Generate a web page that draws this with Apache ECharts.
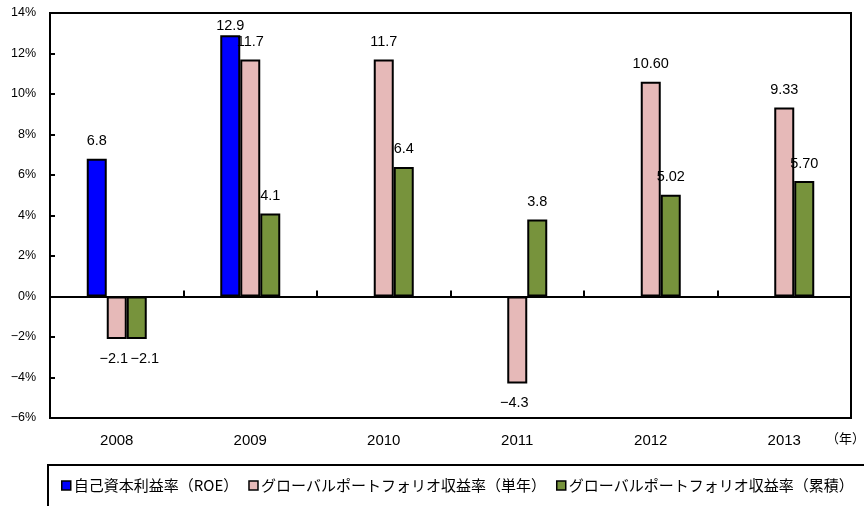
<!DOCTYPE html>
<html><head><meta charset="utf-8">
<script src="https://cdn.jsdelivr.net/npm/echarts@6/dist/echarts.min.js"></script>
<style>html,body{margin:0;padding:0;background:#fff}#c{width:864px;height:506px}</style>
</head><body><div id="c"></div>
<script>
const years = ['2008','2009','2010','2011','2012','2013'];
const roe = [6.8, 12.9, null, null, null, null];
const singleYear = [-2.1, 11.7, 11.7, -4.3, 10.60, 9.33];
const cumulative = [-2.1, 4.1, 6.4, 3.8, 5.02, 5.70];
const labelDecimals = [1, 1, 1, 1, 2, 2];
const yTicks = {min: -6, max: 14, interval: 2};
const names = ['自己資本利益率（ROE）', 'グローバルポートフォリオ収益率（単年）', 'グローバルポートフォリオ収益率（累積）'];
const colors = ['#0000FF', '#E6B9B8', '#77933C'];

const chart = echarts.init(document.getElementById('c'));
const labelFont = {fontFamily: 'Liberation Sans', fontSize: 14.5, color: '#000'};
const negOffsets = [[0, 0], [-3, 0], [8, 0]];
function mk(vals, si){
  return vals.map(v => v === null ? null : {
    value: v,
    label: v < 0 ? {position: 'bottom', distance: 12, offset: negOffsets[si]}
                 : {position: 'top', distance: (yTicks.max - v) < 1.5 ? 2 : 10}
  });
}
const series = [roe, singleYear, cumulative].map((vals, i) => ({
  name: names[i], type: 'bar', xAxisIndex: 0,
  data: mk(vals, i), barWidth: 20, barGap: '0%',
  itemStyle: {color: colors[i], borderColor: '#000', borderWidth: 2},
  label: Object.assign({show: true, formatter: p => p.value.toFixed(labelDecimals[p.dataIndex]).replace('-', '−')}, labelFont),
  animation: false
}));
chart.setOption({
  animation: false,
  grid: {left: 50, right: 13, top: 13, bottom: 88, show: true, borderColor: '#000', borderWidth: 2},
  legend: {
    left: 61, top: 478, right: 0, padding: 0, itemWidth: 9, itemHeight: 9, itemGap: 10, icon: 'rect',
    itemStyle: {borderColor: '#000', borderWidth: 1.5},
    textStyle: {fontFamily: 'Noto Sans CJK JP', fontSize: 15, color: '#000', padding: [0, 0, 0, -2]},
    data: names
  },
  xAxis: [
    {type: 'category', data: years, position: 'bottom',
     axisLine: {onZero: false, lineStyle: {color: '#000', width: 2}},
     axisTick: {show: false},
     axisLabel: {fontFamily: 'Liberation Sans', fontSize: 15, color: '#000', margin: 15}},
    {type: 'category', data: years, position: 'bottom',
     axisLine: {onZero: true, lineStyle: {color: '#000', width: 2}},
     axisTick: {show: true, inside: true, length: 6, lineStyle: {color: '#000', width: 2}},
     axisLabel: {show: false}}
  ],
  yAxis: {
    type: 'value', min: yTicks.min, max: yTicks.max, interval: yTicks.interval,
    axisLine: {show: true, lineStyle: {color: '#000', width: 2}},
    axisTick: {show: true, inside: true, length: 5, lineStyle: {color: '#000', width: 2}},
    splitLine: {show: false},
    axisLabel: {formatter: v => String(v).replace('-', '−') + '%', fontFamily: 'Liberation Sans', fontSize: 12.5, color: '#000', margin: 14}
  },
  graphic: [
    {type: 'rect', shape: {x: 48, y: 465, width: 900, height: 100}, style: {fill: 'none', stroke: '#000', lineWidth: 2}, silent: true},
    {type: 'text', left: 826, top: 432, style: {text: '（年）', fontFamily: 'Noto Sans CJK JP', fontSize: 13, fill: '#000'}}
  ],
  series: series
});
</script></body></html>
